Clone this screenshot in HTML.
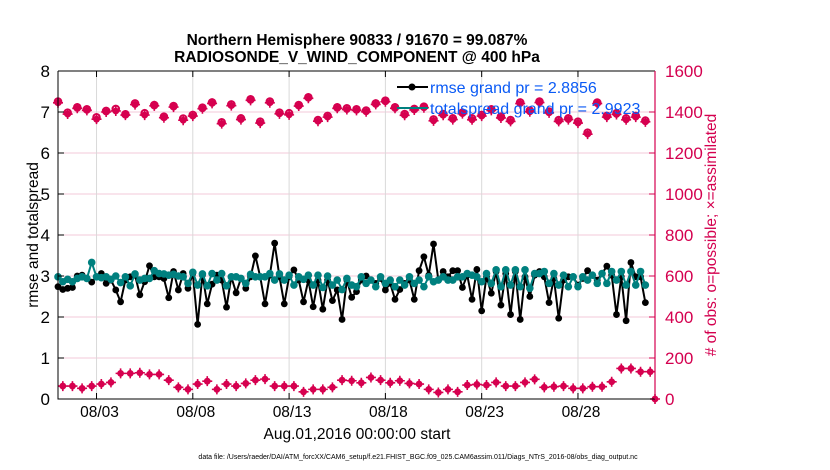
<!DOCTYPE html>
<html><head><meta charset="utf-8"><style>
body{margin:0;background:#fff;}
svg{display:block;font-family:"Liberation Sans",Arial,sans-serif;}
</style></head><body>
<svg id="chart" width="830" height="470" viewBox="0 0 830 470">
<g id="grid"></g>
<g id="series"></g>
<g id="axes"></g>
<text x="357" y="45" text-anchor="middle" font-size="15.5" font-weight="bold">Northern Hemisphere 90833 / 91670 = 99.087%</text>
<text x="357" y="62" text-anchor="middle" font-size="15.5" font-weight="bold">RADIOSONDE_V_WIND_COMPONENT @ 400 hPa</text>
<text transform="translate(38,235) rotate(-90)" text-anchor="middle" font-size="15.5">rmse and totalspread</text>
<text transform="translate(716,235) rotate(-90)" text-anchor="middle" font-size="15.5" fill="#d4004f"># of obs: o=possible; ×=assimilated</text>
<text x="357" y="439" text-anchor="middle" font-size="15.5">Aug.01,2016 00:00:00 start</text>
<text x="418" y="459" text-anchor="middle" font-size="7">data file: /Users/raeder/DAI/ATM_forcXX/CAM6_setup/f.e21.FHIST_BGC.f09_025.CAM6assim.011/Diags_NTrS_2016-08/obs_diag_output.nc</text>
<g>
<line x1="397" y1="87" x2="428" y2="87" stroke="#000" stroke-width="2"/>
<circle cx="412" cy="87" r="3.5" fill="#000"/>
<text x="430" y="93" font-size="16" fill="#0a5af5">rmse grand pr = 2.8856</text>
<line x1="397" y1="108" x2="428" y2="108" stroke="#00807f" stroke-width="2"/>
<text x="430" y="114" font-size="16" fill="#0a5af5">totalspread grand pr = 2.9923</text>
</g>
</svg>
<script>
const rmse=[2.74,2.67,2.70,2.72,3.00,3.02,2.94,2.85,2.98,3.06,2.82,2.90,2.66,2.37,2.90,2.98,3.02,2.54,2.86,3.25,2.98,2.98,2.94,2.47,3.11,2.66,3.06,2.70,3.06,1.82,3.02,2.32,2.80,3.02,2.90,2.24,2.98,2.59,2.94,2.70,2.98,3.49,2.98,2.32,3.02,3.80,2.98,2.32,2.98,3.15,2.90,2.37,2.90,2.25,2.90,2.19,2.90,2.40,2.66,1.94,2.90,2.48,
2.62,2.90,3.00,2.90,2.82,2.94,2.66,2.82,2.43,2.67,2.82,2.90,2.43,3.13,3.47,3.02,3.78,2.90,3.11,2.98,3.13,3.13,2.72,3.02,2.43,3.16,2.15,2.98,2.58,3.11,2.29,3.06,2.06,3.11,1.94,2.98,2.50,3.02,3.11,2.98,2.35,2.94,1.97,2.90,2.98,2.98,2.78,2.94,3.13,3.02,2.90,3.06,3.24,3.02,2.06,2.98,1.91,3.33,2.98,2.98,2.35];
const spread=[2.98,2.86,2.92,2.86,2.94,2.98,2.94,3.33,2.98,2.96,2.98,2.92,3.00,2.84,2.98,2.76,3.05,2.90,2.94,2.94,3.13,3.06,3.05,3.02,3.04,3.00,2.98,2.82,3.09,2.78,3.05,2.76,3.06,2.90,3.06,2.76,2.98,2.98,2.94,2.82,3.04,2.98,2.98,2.98,3.06,2.90,3.05,2.90,3.02,2.78,2.98,2.92,3.02,2.78,3.02,2.72,3.00,2.78,2.90,2.67,2.94,2.78,
2.74,2.98,2.82,2.90,2.74,2.98,2.82,2.90,2.74,2.90,2.78,2.98,2.82,2.90,2.74,2.98,2.86,2.90,2.98,2.90,2.90,2.98,2.98,3.06,3.02,2.98,2.86,3.06,2.82,3.15,2.74,3.15,2.78,3.15,2.74,3.15,2.70,3.06,3.06,3.11,2.82,3.06,2.78,3.02,2.74,2.98,2.74,2.98,2.90,3.02,2.82,3.06,2.82,3.11,2.90,3.11,2.78,3.11,2.78,3.11,2.78];
const obsPossible=[1451,1397,1423,1413,1374,1405,1415,1389,1442,1394,1434,1377,1429,1368,1386,1421,1447,1350,1437,1369,1462,1353,1451,1397,1394,1434,1472,1361,1381,1423,1418,
1413,1407,1442,1455,1423,1390,1415,1426,1364,1390,1369,1397,1369,1386,1413,1377,1361,1447,1407,1451,1402,1361,1369,1353,1299,1446,1381,1394,1369,1381,1358];
const obsAssim=[1445,1390,1418,1408,1365,1400,1405,1385,1436,1385,1430,1372,1424,1360,1380,1416,1442,1343,1431,1363,1457,1346,1445,1391,1386,1429,1467,1355,1375,1418,1412,
1408,1401,1437,1450,1418,1384,1410,1421,1357,1384,1363,1392,1362,1380,1408,1371,1354,1441,1401,1446,1396,1354,1363,1346,1292,1441,1375,1388,1362,1375,1352];
const obsLow=[63,63,52,63,73,81,125,125,128,120,120,92,57,47,73,87,47,73,63,76,92,97,63,63,63,35,47,47,57,92,89,
79,105,92,79,89,76,73,47,32,47,35,68,71,68,81,63,63,81,96,57,60,63,52,52,60,60,84,149,149,133,133,0];
const xTickDays=[3,8,13,18,23,28];
const xTickLabels=['08/03','08/08','08/13','08/18','08/23','08/28'];
const yLeftTicks=[0,1,2,3,4,5,6,7,8];
const yRightTicks=[0,200,400,600,800,1000,1200,1400,1600];

const L=58,R=655,T=71,B=399,NS='http://www.w3.org/2000/svg';
const x=d=>L+(d-1)*(R-L)/31;
const yl=v=>B-v*(B-T)/8;
const yr=v=>B-v*(B-T)/1600;
function mk(tag,attrs,parent){const e=document.createElementNS(NS,tag);for(const k in attrs)e.setAttribute(k,attrs[k]);parent.appendChild(e);return e;}
const grid=document.getElementById('grid'),ser=document.getElementById('series'),ax=document.getElementById('axes');
mk('rect',{x:L,y:T,width:R-L,height:B-T,fill:'#fff'},grid);
yLeftTicks.forEach(v=>{if(v>0&&v<8){const g=mk('line',{x1:L,x2:R,y1:yl(v),y2:yl(v),stroke:'#f3c9d8','stroke-width':1},grid);

}});
xTickDays.forEach((d,i)=>{const g=mk('line',{x1:x(d),x2:x(d),y1:T,y2:B,stroke:'#d9d9d9','stroke-width':1},grid);


const tk=mk('line',{x1:x(d),x2:x(d),y1:B,y2:B-6,stroke:'#000'},ax);


const tt=mk('line',{x1:x(d),x2:x(d),y1:T,y2:T+6,stroke:'#000'},ax);


const t=mk('text',{x:x(d)+3,y:B+18,'text-anchor':'middle','font-size':15.5},ax);t.textContent=xTickLabels[i];

});
yLeftTicks.forEach(v=>{const t=mk('text',{x:L-8,y:yl(v)+6,'text-anchor':'end','font-size':17},ax);t.textContent=v;


const tk=mk('line',{x1:L,x2:L+6,y1:yl(v),y2:yl(v),stroke:'#000'},ax);

});
yRightTicks.forEach(v=>{const t=mk('text',{x:R+10,y:yr(v)+6,'font-size':17,fill:'#d4004f'},ax);t.textContent=v;


const tk=mk('line',{x1:R-6,x2:R,y1:yr(v),y2:yr(v),stroke:'#d4004f'},ax);

});
const fr=mk('path',{d:`M${L},${T}H${R}M${L},${T}V${B}H${R}`,stroke:'#000',fill:'none','stroke-width':1},ax);


const rax=mk('line',{x1:R,x2:R,y1:T,y2:B,stroke:'#d4004f','stroke-width':1.2},ax);



function starMark(cx,cy,parent,name){const g=mk('g',{},parent);


mk('circle',{cx,cy,r:3.4,fill:'#d6004f'},g);
mk('path',{d:`M${cx-5},${cy}H${cx+5}M${cx},${cy-5}V${cy+5}`,stroke:'#d6004f','stroke-width':1.6},g);}
obsPossible.forEach((v,j)=>{const c=mk('circle',{cx:x(1+j*0.5),cy:yr(v),r:3.3,fill:'#fff',stroke:'#d6004f','stroke-width':2},ser);

});
obsAssim.forEach((v,j)=>starMark(x(1+j*0.5),yr(v),ser,'obs-assimilated-point'));
obsLow.forEach((v,j)=>{const d=j<obsLow.length-1?1.25+j*0.5:32;starMark(x(d),yr(v),ser,'obs-count-low-point');});
function line(arr,color,name,r){const pts=arr.map((v,i)=>[x(1+i*0.25),yl(v)]);
const p=mk('polyline',{points:pts.map(p=>p.join(',')).join(' '),fill:'none',stroke:color,'stroke-width':2},ser);


pts.forEach(q=>{const c=mk('circle',{cx:q[0],cy:q[1],r:r,fill:color},ser);

});}
line(rmse,'#000','rmse',3.4);
line(spread,'#00807f','totalspread',3.8);
</script>
</body></html>
